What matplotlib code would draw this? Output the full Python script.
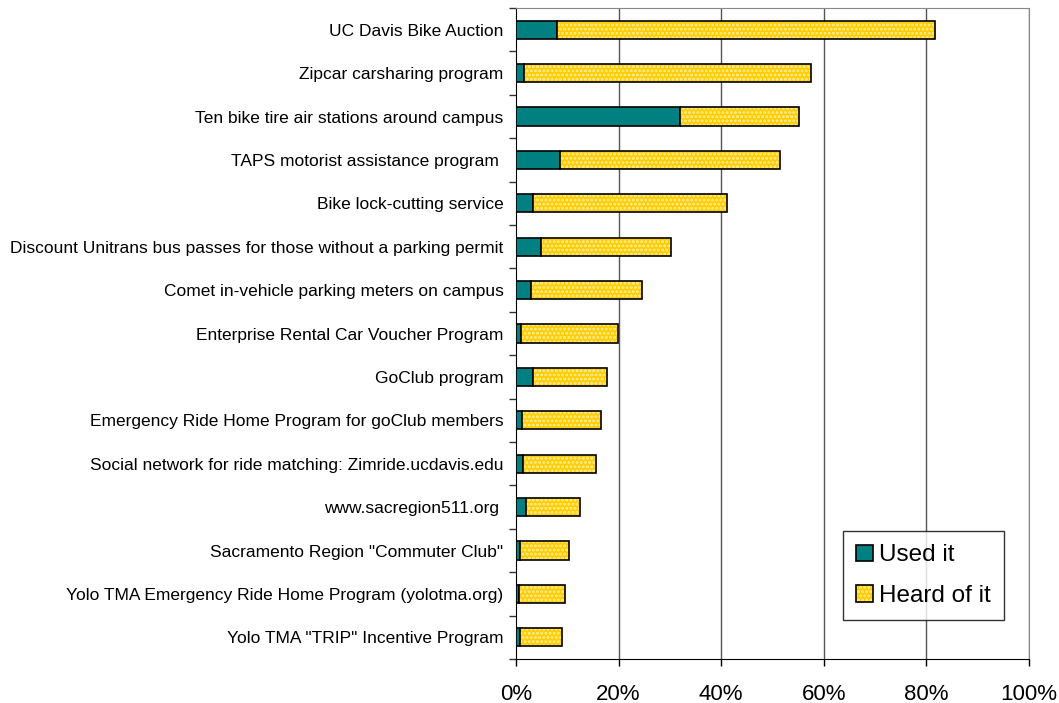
import matplotlib
matplotlib.use("Agg")
import matplotlib.pyplot as plt
import numpy as np
from matplotlib.patches import Patch

categories = [
    "UC Davis Bike Auction",
    "Zipcar carsharing program",
    "Ten bike tire air stations around campus",
    "TAPS motorist assistance program ",
    "Bike lock-cutting service",
    "Discount Unitrans bus passes for those without a parking permit",
    "Comet in-vehicle parking meters on campus",
    "Enterprise Rental Car Voucher Program",
    "GoClub program",
    "Emergency Ride Home Program for goClub members",
    "Social network for ride matching: Zimride.ucdavis.edu",
    "www.sacregion511.org ",
    "Sacramento Region \"Commuter Club\"",
    "Yolo TMA Emergency Ride Home Program (yolotma.org)",
    "Yolo TMA \"TRIP\" Incentive Program",
]
used = [8.0, 1.6, 32.0, 8.6, 3.4, 4.8, 2.9, 1.0, 3.4, 1.1, 1.3, 1.9, 0.7, 0.6, 0.8]
heard = [73.7, 55.9, 23.2, 42.9, 37.7, 25.5, 21.6, 18.9, 14.3, 15.4, 14.3, 10.5, 9.7, 9.0, 8.2]
xticks = [0, 20, 40, 60, 80, 100]
xticklabels = ["0%", "20%", "40%", "60%", "80%", "100%"]

plt.rcParams['font.family'] = ['Liberation Sans', 'DejaVu Sans']
plt.rcParams['hatch.linewidth'] = 1.4

teal = '#008080'
yellow = '#FFCC00'
dot = '#FFF0A0'

fig = plt.figure(figsize=(10.59, 7.03), dpi=100)
ax = fig.add_axes([516/1059, 1-659/703, (1029-516)/1059, (659-8)/703])

y = np.arange(len(categories))
h = 0.42
ax.barh(y, used, height=h, color=teal, edgecolor='black', linewidth=1.2, zorder=3)
ax.barh(y, heard, left=used, height=h, color=yellow, edgecolor=dot, hatch='....',
        linewidth=0, zorder=3)
ax.barh(y, heard, left=used, height=h, fill=False, edgecolor='black', linewidth=1.2, zorder=4)

ax.set_xlim(0, 100)
ax.set_ylim(len(categories) - 0.5, -0.5)
ax.set_xticks(xticks)
ax.set_xticklabels(xticklabels, fontsize=16)
ax.tick_params(axis='x', direction='out', length=5, width=1, pad=13)
ax.set_yticks(y)
ax.set_yticklabels(categories, fontsize=12.5)
ax.tick_params(axis='y', which='major', length=0, pad=9)
ax.set_yticks(np.arange(len(categories) + 1) - 0.5, minor=True)
ax.tick_params(axis='y', which='minor', direction='out', length=5, width=1, color='#333333')

for xv in xticks[1:]:
    ax.axvline(xv, color='#555555', linewidth=1, zorder=1)

ax.spines['left'].set_color('black')
ax.spines['bottom'].set_color('black')
ax.spines['top'].set_color('#888888')
ax.spines['right'].set_color('#888888')

h1 = Patch(facecolor=teal, edgecolor='black', linewidth=1.2)
h2a = Patch(facecolor=yellow, edgecolor=dot, hatch='....', linewidth=0)
h2b = Patch(fill=False, edgecolor='black', linewidth=1.2)
leg = fig.legend([h1, (h2a, h2b)], ["Used it", "Heard of it"],
                 loc='upper left', bbox_to_anchor=(843/1059, 1-531/703),
                 borderaxespad=0, fontsize=17.5, frameon=True, fancybox=False,
                 edgecolor='black', handlelength=0.68, handleheight=0.68,
                 handletextpad=0.25, labelspacing=0.76, borderpad=0.55)
leg.get_frame().set_linewidth(1)

fig.savefig("out.png", dpi=100)
